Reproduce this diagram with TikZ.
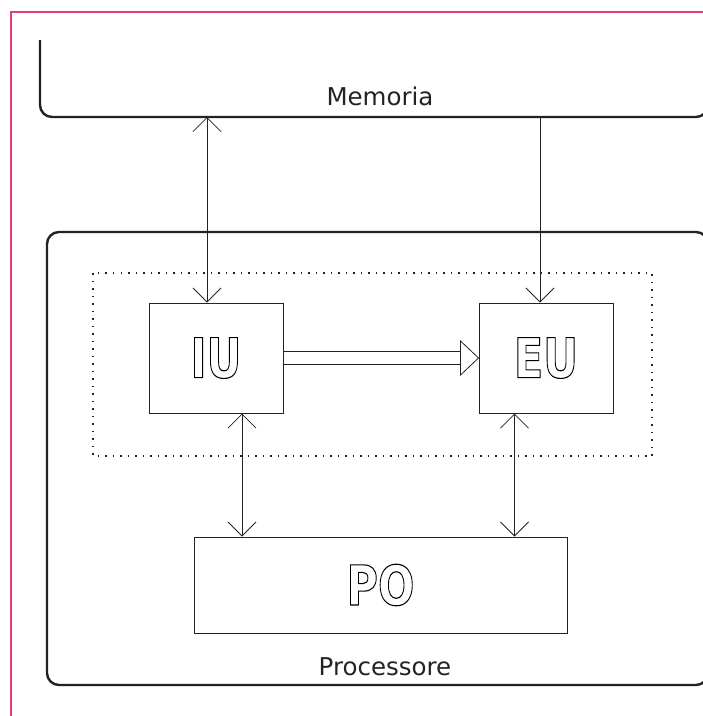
\documentclass[tikz,border=0pt]{standalone}
\usepackage{fontspec}
\setmainfont{DejaVu Sans}
\usetikzlibrary{arrows.meta,positioning}

\definecolor{framepink}{RGB}{226,64,110}
\definecolor{ink}{RGB}{35,35,35}

% lettere vuote (solo contorno) per le unita'
\newcommand{\hollow}[1]{\special{pdf:literal direct q 1 Tr 1.1 w}\scalebox{0.78}[1]{\bfseries #1}\special{pdf:literal direct Q}}

\tikzset{barb/.tip={Straight Barb[length=14pt,width=28pt]}}

\begin{document}
\begin{tikzpicture}[x=1pt, y=-1pt,
  unit/.style={draw=ink, line width=1pt, minimum width=134pt, minimum height=110pt, inner sep=0pt, font=\fontsize{55pt}{60pt}\selectfont},
  title/.style={text=ink, font=\fontsize{24.5pt}{26pt}\selectfont},
  link/.style={ink, line width=0.8pt}]
\useasboundingbox (0,0) rectangle (703,716);
\draw[framepink, line width=2.6pt] (11,716) |- (703,12);
% memoria
\draw[ink, line width=2.4pt, rounded corners=12pt] (40,40) |- (708,117) -- (708,40);
\node[title] (mem) at (380,96) {Memoria};
% processore
\draw[ink, line width=2.4pt, rounded corners=12pt] (47,232) rectangle (708,685);
\node[title] (proc) at (385,667) {Processore};
\draw[ink, line width=1.1pt, dash pattern=on 1.5pt off 6pt] (93,273) rectangle (652,456);
\node[unit] (iu) at (216,358) {\hollow{IU}};
\node[unit, right=195pt of iu] (eu) {\hollow{EU}};
\node[unit, minimum width=373pt, minimum height=96pt] (po) at (380.5,585) {\hollow{PO}};
\coordinate (memiu) at (207,117);
\coordinate (memeu) at (540,117);
\draw[link, barb-barb] (memiu) -- (memiu |- iu.north);
\draw[link, -barb] (memeu) -- (memeu |- eu.north);
\draw[link, barb-barb] ([xshift=26pt]iu.south) -- ([xshift=26pt]iu.south |- po.north);
\draw[link, barb-barb] ([xshift=-31.5pt]eu.south) -- ([xshift=-31.5pt]eu.south |- po.north);
% freccia doppia IU -> EU
\draw[ink, line width=0.8pt, double distance=12pt, shorten >=18pt] (iu.east) -- (eu.west);
\draw[ink, line width=0.8pt, fill=white] (eu.west) -- ++(-18,-17) -- ++(0,34) -- cycle;
\end{tikzpicture}
\end{document}
